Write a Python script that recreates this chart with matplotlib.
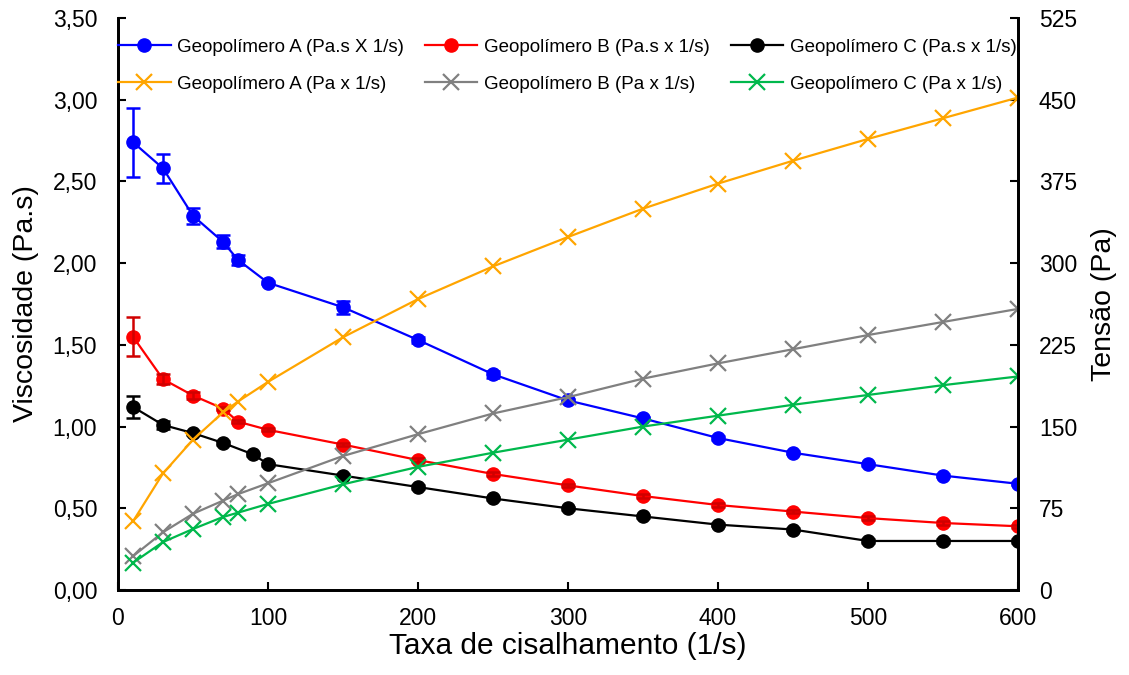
import matplotlib
matplotlib.use("Agg")
import matplotlib.pyplot as plt
from matplotlib.ticker import FixedLocator, FuncFormatter

plt.rcParams['font.family'] = ['Liberation Sans', 'DejaVu Sans']

# Viscosity data (left axis)
x_a = [10, 30, 50, 70, 80, 100, 150, 200, 250, 300, 350, 400, 450, 500, 550, 600]
visc_a = [2.74, 2.58, 2.29, 2.13, 2.02, 1.88, 1.73, 1.53, 1.32, 1.16, 1.05, 0.93, 0.84, 0.77, 0.70, 0.65]
err_a = [0.21, 0.09, 0.05, 0.04, 0.03, 0.01, 0.04, 0.02, 0.02, 0.01, 0.01, 0.01, 0.01, 0.01, 0.01, 0.01]

x_b = [10, 30, 50, 70, 80, 100, 150, 200, 250, 300, 350, 400, 450, 500, 550, 600]
visc_b = [1.55, 1.29, 1.19, 1.11, 1.03, 0.98, 0.89, 0.795, 0.71, 0.64, 0.575, 0.52, 0.48, 0.44, 0.41, 0.39]
err_b = [0.12, 0.03, 0.02, 0.01, 0.01, 0.01, 0.01, 0.01, 0.01, 0.01, 0.01, 0.01, 0.01, 0.01, 0.01, 0.01]

x_c = [10, 30, 50, 70, 90, 100, 150, 200, 250, 300, 350, 400, 450, 500, 550, 600]
visc_c = [1.12, 1.01, 0.96, 0.90, 0.83, 0.77, 0.70, 0.63, 0.56, 0.50, 0.45, 0.40, 0.37, 0.30, 0.30, 0.30]
err_c = [0.07, 0.025, 0.01, 0.01, 0.01, 0.01, 0.01, 0.01, 0.01, 0.01, 0.01, 0.01, 0.01, 0.01, 0.01, 0.01]

# Shear stress data (right axis)
x_s = [10, 30, 50, 70, 80, 100, 150, 200, 250, 300, 350, 400, 450, 500, 550, 600]
tens_a = [63, 107, 138, 163, 173, 191, 232, 267, 297, 324, 350, 373, 394, 414, 433, 452]
tens_b = [31, 53, 70, 82, 88, 98, 123, 143, 162, 177, 194, 208, 221, 234, 246, 258]
tens_c = [25, 44, 56, 67, 71, 79, 97, 113, 126, 138, 150, 160, 170, 179, 188, 196]

labels = ["Geopolímero A (Pa.s X 1/s)", "Geopolímero B (Pa.s x 1/s)", "Geopolímero C (Pa.s x 1/s)",
          "Geopolímero A (Pa x 1/s)", "Geopolímero B (Pa x 1/s)", "Geopolímero C (Pa x 1/s)"]

x_ticks = [0, 100, 200, 300, 400, 500, 600]
y_ticks = [0, 0.5, 1.0, 1.5, 2.0, 2.5, 3.0, 3.5]
y2_ticks = [0, 75, 150, 225, 300, 375, 450, 525]

fig = plt.figure(figsize=(11.29, 6.75), dpi=100)
ax = fig.add_axes([118/1129, 1 - 590/675, 900/1129, 572/675])
ax2 = ax.twinx()

c_blue, c_red, c_black = '#0000FF', '#FF0000', '#000000'
c_orange, c_gray, c_green = '#FFA500', '#808080', '#00B84C'

ms_c = 9.5
h1, = ax.plot(x_a, visc_a, color=c_blue, lw=1.6, marker='o', ms=ms_c, label=labels[0])
h2, = ax.plot(x_b, visc_b, color=c_red, lw=1.6, marker='o', ms=ms_c, label=labels[1])
h3, = ax.plot(x_c, visc_c, color=c_black, lw=1.6, marker='o', ms=ms_c, label=labels[2])
ax.errorbar(x_a, visc_a, yerr=err_a, fmt='none', ecolor=c_blue, elinewidth=1.8, capsize=5, capthick=1.8)
ax.errorbar(x_b, visc_b, yerr=err_b, fmt='none', ecolor='#D00000', elinewidth=1.8, capsize=5, capthick=1.8)
ax.errorbar(x_c, visc_c, yerr=err_c, fmt='none', ecolor=c_black, elinewidth=1.8, capsize=5, capthick=1.8)

ms_x = 11
h4, = ax2.plot(x_s, tens_a, color=c_orange, lw=1.6, marker='x', ms=ms_x, mew=1.6, label=labels[3])
h5, = ax2.plot(x_s, tens_b, color=c_gray, lw=1.6, marker='x', ms=ms_x, mew=1.6, label=labels[4])
h6, = ax2.plot(x_s, tens_c, color=c_green, lw=1.6, marker='x', ms=ms_x, mew=1.6, label=labels[5])

ax.set_xlim(0, 600)
ax.set_ylim(0, 3.5)
ax2.set_ylim(0, 525)
ax.xaxis.set_major_locator(FixedLocator(x_ticks))
ax.yaxis.set_major_locator(FixedLocator(y_ticks))
ax2.yaxis.set_major_locator(FixedLocator(y2_ticks))
ax.yaxis.set_major_formatter(FuncFormatter(lambda v, p: f"{v:.2f}".replace('.', ',')))

for a in (ax, ax2):
    a.spines['top'].set_visible(False)
    for s in ('left', 'right', 'bottom'):
        a.spines[s].set_linewidth(2)
        a.spines[s].set_color('black')
    a.tick_params(direction='in', length=6, width=1.5, labelsize=16.5, pad=15)
ax.tick_params(axis='x', pad=12)

ax.set_xlabel("Taxa de cisalhamento (1/s)", fontsize=21.5, labelpad=2)
ax.set_ylabel("Viscosidade (Pa.s)", fontsize=20.5, labelpad=10)
ax2.set_ylabel("Tensão (Pa)", fontsize=20.5, labelpad=10)

handles = [h1, h4, h2, h5, h3, h6]
ax2.legend(handles=handles, labels=[h.get_label() for h in handles], ncol=3, frameon=False,
           loc='upper left', bbox_to_anchor=(0.0, 0.964), fontsize=13.5, handlelength=2.8,
           columnspacing=1.1, handletextpad=0.37, labelspacing=1.07, borderaxespad=0.0,
           borderpad=0.0)

fig.savefig("out.png", dpi=100)
